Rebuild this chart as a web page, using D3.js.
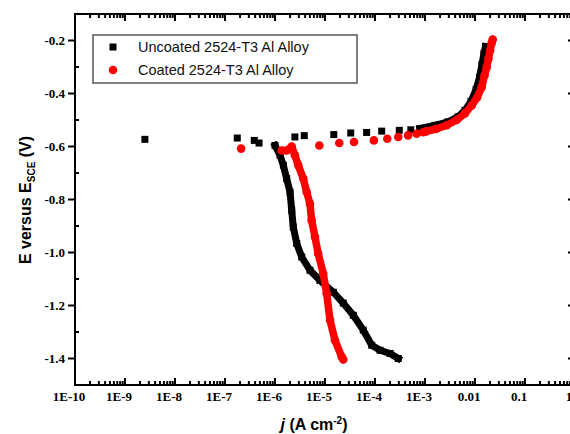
<!DOCTYPE html>
<html>
<head>
<meta charset="utf-8">
<script src="https://cdn.jsdelivr.net/npm/d3@7"></script>
<style>
  body { margin: 0; background: #fff; }
  svg { display: block; }
</style>
</head>
<body>
<script>
const width = 570;
const height = 434;

// Uncoated 2524-T3, scattered points near corrosion potential
const uncoatedJ = [2.5e-9, 1.76e-7, 3.85e-7, 4.8e-7, 2.5e-6, 3.85e-6, 1.5e-5, 3.27e-5, 6.8e-5, 1.36e-4, 3.06e-4, 5.2e-4];
const uncoatedE = [-0.573, -0.568, -0.577, -0.587, -0.564, -0.559, -0.555, -0.549, -0.547, -0.542, -0.539, -0.537];
// Uncoated, cathodic branch (dense)
const uncoatedCathJ = [1.0e-6, 1.26e-6, 1.47e-6, 1.71e-6, 2.0e-6, 2.16e-6, 2.32e-6, 2.72e-6, 3.42e-6, 5.0e-6, 7.9e-6, 1.47e-5, 2.32e-5, 3.68e-5, 5.83e-5, 8.6e-5, 1.26e-4, 2.0e-4, 2.92e-4];
const uncoatedCathE = [-0.596, -0.633, -0.671, -0.721, -0.772, -0.841, -0.904, -0.966, -1.017, -1.067, -1.105, -1.150, -1.191, -1.237, -1.293, -1.350, -1.369, -1.381, -1.400];
// Uncoated, anodic branch (dense)
const uncoatedAnJ = [7.9e-4, 1.58e-3, 2.88e-3, 4.57e-3, 6.3e-3, 8.3e-3, 1.05e-2, 1.23e-2, 1.38e-2, 1.51e-2, 1.62e-2];
const uncoatedAnE = [-0.532, -0.520, -0.507, -0.488, -0.464, -0.430, -0.385, -0.339, -0.290, -0.249, -0.223];

// Coated 2524-T3
const coatedJ = [2.1e-7, 7.7e-6, 1.93e-5, 3.8e-5, 9.5e-5, 1.76e-4, 2.92e-4, 4.6e-4, 6.8e-4, 9.2e-4];
const coatedE = [-0.608, -0.596, -0.587, -0.583, -0.577, -0.571, -0.564, -0.558, -0.552, -0.546];
const coatedCathJ = [1.36e-6, 1.71e-6, 2.16e-6, 2.5e-6, 2.92e-6, 3.68e-6, 4.3e-6, 5.0e-6, 5.4e-6, 6.3e-6, 7.3e-6, 9.2e-6, 1.08e-5, 1.26e-5, 1.58e-5, 2.16e-5, 2.32e-5];
const coatedCathE = [-0.615, -0.615, -0.600, -0.633, -0.671, -0.721, -0.772, -0.816, -0.878, -0.941, -1.004, -1.079, -1.155, -1.255, -1.331, -1.394, -1.404];
const coatedAnJ = [1.05e-3, 1.66e-3, 2.72e-3, 4.3e-3, 6.3e-3, 8.6e-3, 1.1e-2, 1.36e-2, 1.55e-2, 1.71e-2, 1.86e-2, 2.0e-2, 2.14e-2, 2.26e-2];
const coatedAnE = [-0.543, -0.534, -0.520, -0.500, -0.475, -0.445, -0.415, -0.376, -0.332, -0.302, -0.268, -0.238, -0.211, -0.196];

const xTicks = [1e-10, 1e-9, 1e-8, 1e-7, 1e-6, 1e-5, 1e-4, 1e-3, 1e-2, 1e-1, 1];
const xTickLabels = ["1E-10", "1E-9", "1E-8", "1E-7", "1E-6", "1E-5", "1E-4", "1E-3", "0.01", "0.1", "1"];
const yTicks = [-0.2, -0.4, -0.6, -0.8, -1.0, -1.2, -1.4];
const yMinorTicks = [-0.3, -0.5, -0.7, -0.9, -1.1, -1.3];
const seriesNames = ["Uncoated 2524-T3 Al Alloy", "Coated 2524-T3 Al Alloy"];

const pLeft = 75, pRight = 575, pTop = 14, pBottom = 385;

const svg = d3.select("body").append("svg")
    .attr("width", width)
    .attr("height", height);

const x = d3.scaleLog().domain([1e-10, 1]).range([pLeft, pRight]);
const y = d3.scaleLinear().domain([-1.5, -0.1]).range([pBottom, pTop]);

// minor ticks for log axis: 2..9 in every decade
const xMinor = [];
xTicks.slice(0, -1).forEach(d => {
    for (let k = 2; k <= 9; k++) xMinor.push(d * k);
});

const serif = "'Liberation Serif', 'Times New Roman', serif";
const sans = "'Liberation Sans', Arial, sans-serif";

const ticks = svg.append("g")
    .attr("stroke", "#000")
    .attr("stroke-width", 2);

// x ticks on bottom and top, pointing into the plot
function xTickLines(vals, len) {
    ticks.append("g").selectAll("line")
        .data(vals)
        .enter()
        .append("line")
        .attr("x1", d => x(d)).attr("x2", d => x(d))
        .attr("y1", pBottom).attr("y2", pBottom - len);
    ticks.append("g").selectAll("line")
        .data(vals)
        .enter()
        .append("line")
        .attr("x1", d => x(d)).attr("x2", d => x(d))
        .attr("y1", pTop).attr("y2", pTop + len);
}
xTickLines(xMinor, 4);
xTickLines(xTicks, 7);

// y ticks: left majors outward, left minors inward, right ones inward
ticks.append("g").selectAll("line")
    .data(yTicks)
    .enter()
    .append("line")
    .attr("x1", pLeft - 7).attr("x2", pLeft)
    .attr("y1", d => y(d)).attr("y2", d => y(d));
ticks.append("g").selectAll("line")
    .data(yMinorTicks)
    .enter()
    .append("line")
    .attr("x1", pLeft).attr("x2", pLeft + 4)
    .attr("y1", d => y(d)).attr("y2", d => y(d));
ticks.append("g").selectAll("line")
    .data(yTicks)
    .enter()
    .append("line")
    .attr("x1", pRight - 7).attr("x2", pRight)
    .attr("y1", d => y(d)).attr("y2", d => y(d));
ticks.append("g").selectAll("line")
    .data(yMinorTicks)
    .enter()
    .append("line")
    .attr("x1", pRight - 4).attr("x2", pRight)
    .attr("y1", d => y(d)).attr("y2", d => y(d));

// tick labels
svg.append("g").selectAll("text")
    .data(xTicks)
    .enter()
    .append("text")
    .attr("x", d => x(d) - 6)
    .attr("y", pBottom + 16)
    .attr("text-anchor", "middle")
    .style("font-family", serif)
    .style("font-weight", "bold")
    .style("font-size", "13px")
    .text((d, i) => xTickLabels[i]);

svg.append("g").selectAll("text")
    .data(yTicks)
    .enter()
    .append("text")
    .attr("x", pLeft - 10)
    .attr("y", d => y(d) + 4.5)
    .attr("text-anchor", "end")
    .style("font-family", serif)
    .style("font-weight", "bold")
    .style("font-size", "13px")
    .text(d => d.toFixed(1));

// frame
svg.append("rect")
    .attr("x", pLeft).attr("y", pTop)
    .attr("width", pRight - pLeft).attr("height", pBottom - pTop)
    .attr("fill", "none")
    .attr("stroke", "#000")
    .attr("stroke-width", 2);

const line = d3.line()
    .x(d => x(d[0]))
    .y(d => y(d[1]));

function zip(a, b) { return a.map((v, i) => [v, b[i]]); }

function drawSquares(pts, size) {
    svg.append("g").selectAll("rect")
        .data(pts)
        .enter()
        .append("rect")
        .attr("x", d => x(d[0]) - size / 2)
        .attr("y", d => y(d[1]) - size / 2)
        .attr("width", size)
        .attr("height", size)
        .attr("fill", "#000");
}

function drawCircles(pts, r) {
    svg.append("g").selectAll("circle")
        .data(pts)
        .enter()
        .append("circle")
        .attr("cx", d => x(d[0]))
        .attr("cy", d => y(d[1]))
        .attr("r", r)
        .attr("fill", "#ff0000");
}

function drawBand(pts, color, w, cap) {
    svg.append("path")
        .datum(pts)
        .attr("d", line)
        .attr("fill", "none")
        .attr("stroke", color)
        .attr("stroke-width", w)
        .attr("stroke-linejoin", "round")
        .attr("stroke-linecap", cap);
}

// uncoated (black squares)
const uc = zip(uncoatedCathJ, uncoatedCathE);
const ua = zip(uncoatedAnJ, uncoatedAnE);
drawBand(uc, "#000", 7, "square");
drawBand(ua, "#000", 7, "square");
drawSquares(zip(uncoatedJ, uncoatedE), 7);
drawSquares(uc, 7);
drawSquares(ua, 7);

// coated (red circles)
const cc = zip(coatedCathJ, coatedCathE);
const ca = zip(coatedAnJ, coatedAnE);
drawBand(cc, "#ff0000", 7.5, "round");
drawBand(ca, "#ff0000", 7.5, "round");
drawCircles(zip(coatedJ, coatedE), 4.3);
drawCircles(cc, 4.3);
drawCircles(ca, 4.3);

// legend
const lg = svg.append("g");
lg.append("rect")
    .attr("x", 93).attr("y", 35)
    .attr("width", 264).attr("height", 48)
    .attr("fill", "#fff")
    .attr("stroke", "#555")
    .attr("stroke-width", 1.5);
lg.append("rect")
    .attr("x", 113 - 3.5).attr("y", 47 - 3.5)
    .attr("width", 7).attr("height", 7)
    .attr("fill", "#000");
lg.append("circle")
    .attr("cx", 113).attr("cy", 70)
    .attr("r", 4.3)
    .attr("fill", "#ff0000");
lg.selectAll("text.leg")
    .data(seriesNames)
    .enter()
    .append("text")
    .attr("class", "leg")
    .attr("x", 138)
    .attr("y", (d, i) => 52 + i * 23)
    .style("font-family", sans)
    .style("font-size", "14.5px")
    .attr("fill", "#111")
    .text(d => d);

// y title
const yt = svg.append("text")
    .attr("transform", "translate(31,200) rotate(-90)")
    .attr("text-anchor", "middle")
    .style("font-family", sans)
    .style("font-weight", "bold")
    .style("font-size", "16px");
yt.append("tspan").text("E versus E");
yt.append("tspan").attr("dy", 4).style("font-size", "10px").text("SCE");
yt.append("tspan").attr("dy", -4).text(" (V)");

// x title
const xt = svg.append("text")
    .attr("x", 314)
    .attr("y", 430)
    .attr("text-anchor", "middle")
    .style("font-family", sans)
    .style("font-weight", "bold")
    .style("font-size", "16px");
xt.append("tspan").style("font-style", "italic").text("j");
xt.append("tspan").text(" (A cm");
xt.append("tspan").attr("dy", -6).style("font-size", "10px").text("-2");
xt.append("tspan").attr("dy", 6).text(")");
</script>
</body>
</html>
